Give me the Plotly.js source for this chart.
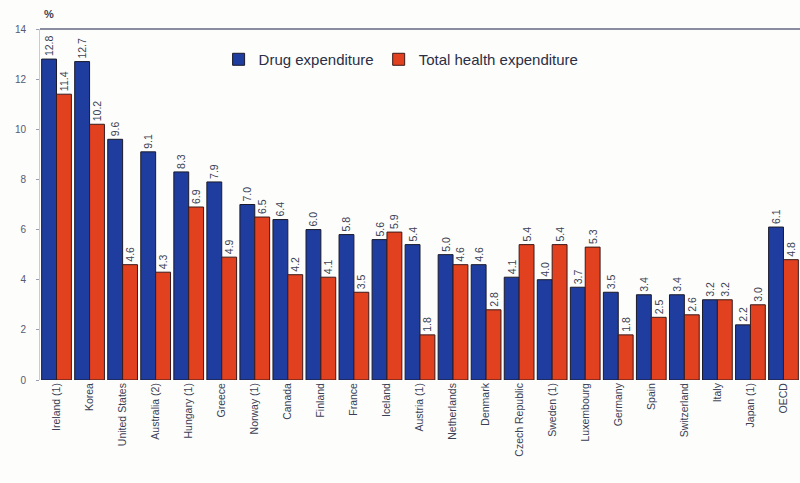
<!DOCTYPE html>
<html>
<head>
<meta charset="utf-8">
<script src="https://cdn.plot.ly/plotly-3.0.1.min.js"></script>
<style>html,body{margin:0;padding:0;background:#fdfdfb;}#chart{width:800px;height:483px;}</style>
</head>
<body>
<div id="chart"></div>
<script>
const countries = ["Ireland (1)","Korea","United States","Australia (2)","Hungary (1)","Greece","Norway (1)","Canada","Finland","France","Iceland","Austria (1)","Netherlands","Denmark","Czech Republic","Sweden (1)","Luxembourg","Germany","Spain","Switzerland","Italy","Japan (1)","OECD"];
const drugExpenditure = [12.8,12.7,9.6,9.1,8.3,7.9,7.0,6.4,6.0,5.8,5.6,5.4,5.0,4.6,4.1,4.0,3.7,3.5,3.4,3.4,3.2,2.2,6.1];
const totalHealthExpenditure = [11.4,10.2,4.6,4.3,6.9,4.9,6.5,4.2,4.1,3.5,5.9,1.8,4.6,2.8,5.4,5.4,5.3,1.8,2.5,2.6,3.2,3.0,4.8];
const yTicks = [0,2,4,6,8,10,12,14];

const fmt = v => v.toFixed(1);
const common = {
  type: 'bar', x: countries, textposition: 'outside', textangle: -90,
  cliponaxis: false, constraintext: 'none',
  textfont: {family: 'Liberation Sans, Arial, sans-serif', size: 10.5, color: '#3a3f55'}
};
const traces = [
  Object.assign({}, common, {name: 'Drug expenditure', y: drugExpenditure, text: drugExpenditure.map(fmt),
    marker: {color: '#1f3d9e', line: {color: '#1a1a2a', width: 1}}}),
  Object.assign({}, common, {name: 'Total health expenditure', y: totalHealthExpenditure, text: totalHealthExpenditure.map(fmt),
    marker: {color: '#e2411f', line: {color: '#3a1a1a', width: 1}}})
];
const layout = {
  width: 800, height: 483,
  paper_bgcolor: '#fdfdfb', plot_bgcolor: '#fdfdfb',
  margin: {l: 40, r: 0, t: 29, b: 103},
  barmode: 'group', bargap: 0.1, bargroupgap: 0,
  font: {family: 'Liberation Sans, Arial, sans-serif', color: '#3a3f55'},
  showlegend: true,
  legend: {orientation: 'h', x: 0.235, y: 0.96, xanchor: 'left', yanchor: 'top',
    bgcolor: 'rgba(0,0,0,0)', font: {size: 15, color: '#2a2f45'}, itemwidth: 30, traceorder: 'normal'},
  xaxis: {tickangle: -90, tickfont: {size: 10.5, color: '#3a3f55'}, showline: false, ticks: '',
    showgrid: false, zeroline: false},
  yaxis: {range: [0, 14], tickvals: yTicks, ticktext: yTicks.map(String), tickfont: {size: 10, color: '#555a70'},
    ticks: 'outside', ticklen: 3, tickcolor: '#9a9db0', showgrid: false, zeroline: false,
    ticklabelstandoff: 8,
    showline: true, linecolor: '#c8cad4', linewidth: 1},
  shapes: [{type: 'line', xref: 'paper', yref: 'paper', x0: 0, x1: 1, y0: 1, y1: 1,
    line: {color: '#8a8ea0', width: 2}}],
  annotations: [{text: '<b>%</b>', xref: 'paper', yref: 'paper', x: 0.003, y: 1.02, yanchor: 'bottom', xanchor: 'left',
    showarrow: false, font: {size: 11, color: '#3a3f55'}}]
};
Plotly.newPlot('chart', traces, layout, {displayModeBar: false, staticPlot: true});
</script>
</body>
</html>
